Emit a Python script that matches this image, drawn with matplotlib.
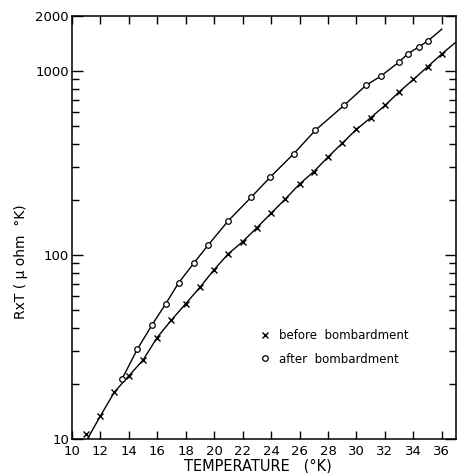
import matplotlib
matplotlib.use("Agg")
import matplotlib.pyplot as plt
from matplotlib.ticker import FixedLocator, NullFormatter, FixedFormatter

# ---- data ----
before_T = [11, 12, 13, 14, 15, 16, 17, 18, 19, 20, 21, 22, 23, 24, 25, 26,
            27, 28, 29, 30, 31, 32, 33, 34, 35, 36]
before_R = [10.6, 13.3, 18.0, 22.0, 26.8, 35.6, 44.3, 54.3, 66.7, 83.2, 101.6,
            118, 140.6, 168.5, 201.5, 243, 283.7, 341, 405, 482, 557, 650,
            770, 900, 1056, 1238]
# drawn curve through the "before" points (start at axis, end at frame)
before_curve_T = [11.1] + before_T[1:] + [37.0]
before_curve_R = [10.0] + before_R[1:] + [1440]

after_T = [13.55, 14.6, 15.65, 16.6, 17.5, 18.6, 19.6, 21.0, 22.6, 23.95,
           25.6, 27.12, 29.15, 30.7, 31.7, 32.97, 33.6, 34.4, 35.04]
after_R = [21.3, 30.7, 41.8, 54.3, 70.4, 90.8, 113.7, 153.6, 205.9, 265.4,
           355.4, 477, 653, 840, 936, 1116, 1240, 1356, 1462]
after_curve_T = after_T + [36.0]
after_curve_R = after_R + [1690]

x_ticks = [10, 12, 14, 16, 18, 20, 22, 24, 26, 28, 30, 32, 34, 36]
y_ticks = [10, 100, 1000, 2000]
y_tick_labels = ["10", "100", "1000", "2000"]
y_minor = [20, 30, 40, 50, 60, 70, 80, 90, 200, 300, 400, 500, 600, 700, 800, 900]

label_before = "before  bombardment"
label_after = "after  bombardment"
xlabel = "TEMPERATURE   (\u00b0K)"
ylabel = "RxT ( \u03bc ohm  \u00b0K)"

plt.rcParams['font.family'] = ['DejaVu Sans']

fig = plt.figure(figsize=(4.57, 4.73), dpi=100)
ax = fig.add_axes([0.157, 0.0719, 0.841, 0.895])

ax.plot(before_curve_T, before_curve_R, color='black', lw=1.0, zorder=2)
ax.plot(after_curve_T, after_curve_R, color='black', lw=1.0, zorder=2)
hb, = ax.plot(before_T, before_R, linestyle='none', marker='x', color='black',
              markersize=4, mew=1.0, zorder=3, label=label_before)
ha, = ax.plot(after_T, after_R, linestyle='none', marker='o', mfc='white',
              mec='black', markersize=4, mew=0.9, zorder=3, label=label_after)

ax.set_yscale('log')
ax.set_xlim(10, 37)
ax.set_ylim(10, 2000)

ax.xaxis.set_major_locator(FixedLocator(x_ticks))
ax.yaxis.set_major_locator(FixedLocator(y_ticks))
ax.yaxis.set_major_formatter(FixedFormatter(y_tick_labels))
ax.yaxis.set_minor_locator(FixedLocator(y_minor))
ax.yaxis.set_minor_formatter(NullFormatter())
ax.xaxis.set_minor_locator(FixedLocator([]))

ax.tick_params(axis='both', which='both', direction='in', top=True, right=True,
               colors='black', labelsize=9.5, width=1.0)
ax.tick_params(axis='x', which='major', length=6, pad=4)
ax.tick_params(axis='y', which='major', length=8, pad=2)
ax.tick_params(axis='y', which='minor', length=5)

for s in ax.spines.values():
    s.set_linewidth(1.1)

ax.set_xlabel(xlabel, fontsize=10.5, labelpad=2)
ax.xaxis.set_label_coords(0.485, -0.045)
ax.set_ylabel(ylabel, fontsize=10)
ax.yaxis.set_label_coords(-0.115, 0.42)

leg = ax.legend(handles=[hb, ha], loc='upper left', bbox_to_anchor=(0.493, 0.26),
                frameon=False, fontsize=8.5, handlelength=0.6,
                handletextpad=0.9, labelspacing=0.9, borderpad=0,
                borderaxespad=0, numpoints=1)

fig.savefig("out.png", dpi=100)
